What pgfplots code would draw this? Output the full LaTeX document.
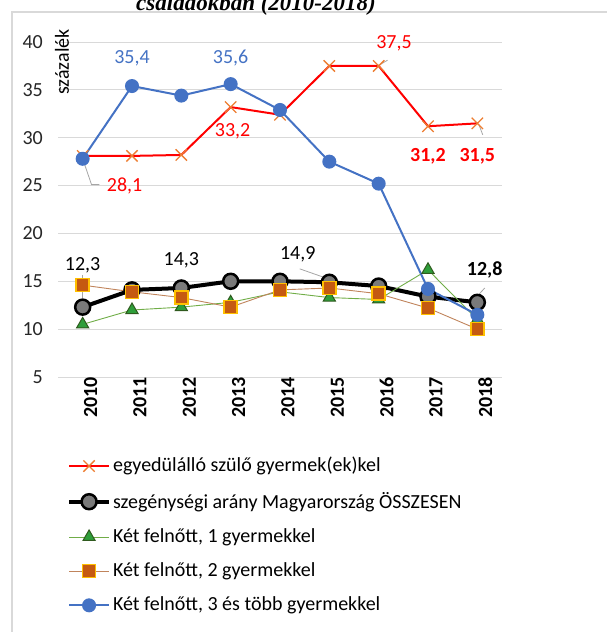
\documentclass[border=0pt]{standalone}
\usepackage{pgfplots}
\pgfplotsset{compat=1.18}
\usepackage{fontspec}
\setmainfont{Carlito}
\newfontfamily\titlefont{Liberation Serif}
\definecolor{cred}{HTML}{FF0000}
\definecolor{xorange}{HTML}{ED7D31}
\definecolor{cblue}{HTML}{4472C4}
\definecolor{gline}{HTML}{70AD47}
\definecolor{gfill}{HTML}{2E9E3A}
\definecolor{gdraw}{HTML}{2F5A1E}
\definecolor{oline}{HTML}{C0845C}
\definecolor{ofill}{HTML}{C55A11}
\definecolor{odraw}{HTML}{FFC000}
\definecolor{kfill}{HTML}{7A7A7A}
\definecolor{leader}{HTML}{A6A6A6}
\newcommand\fs{\fontsize{20}{23.5}\selectfont}
\begin{document}
\fs
\begin{tikzpicture}
\draw[gray!30, line width=1.2pt] (12pt,-12pt) rectangle (700pt,-700pt);
\node[font=\titlefont\bfseries\itshape\fontsize{23}{27}\selectfont, anchor=base] at (256pt,-10pt) {családokban (2010-2018)};
\begin{axis}[
  at={(58pt,-377pt)}, anchor=south west,
  scale only axis, width=444pt, height=335pt,
  xmin=-0.5, xmax=8.5, ymin=5, ymax=40,
  xtick={0,...,8}, xticklabels={2010,2011,2012,2013,2014,2015,2016,2017,2018},
  ytick={5,10,...,40},
  axis line style={draw=none},
  major tick length=0pt,
  ymajorgrids, grid style={gray!30, line width=0.9pt},
  /pgf/number format/assume math mode=true,
  tick label style={font=\fs},
  xticklabel style={rotate=90, anchor=east, inner sep=0pt, yshift=-8pt, font=\fs\bfseries},
  yticklabel style={anchor=east, inner sep=0pt, xshift=-15pt, text=black!85},
  legend style={at={(0.02,-0.233)}, anchor=north west, draw=none, fill=none, font=\fs,
    inner sep=0pt, row sep=13.3pt, cells={anchor=west}},
  legend image code/.code={\draw[mark repeat=2,mark phase=2,#1] plot coordinates {(0pt,0pt) (20pt,0pt) (40pt,0pt)};},
  clip=false,
]
\addplot[cred, line width=2pt, mark=x, mark size=8pt, mark options={draw=xorange, line width=1.3pt}]
  coordinates {(0,28.1) (1,28.1) (2,28.2) (3,33.2) (4,32.4) (5,37.5) (6,37.5) (7,31.2) (8,31.5)};
\addlegendentry{egyedülálló szülő gyermek(ek)kel}
\addplot[black, line width=4pt, mark=*, mark size=7.5pt, mark options={fill=kfill, draw=black, line width=2.5pt}]
  coordinates {(0,12.3) (1,14.1) (2,14.3) (3,15.0) (4,15.0) (5,14.9) (6,14.5) (7,13.4) (8,12.8)};
\addlegendentry{szegénységi arány Magyarország ÖSSZESEN}
\addplot[gline, line width=0.9pt, mark=triangle*, mark size=7pt, mark options={fill=gfill, draw=gdraw, line width=1pt}]
  coordinates {(0,10.5) (1,12.0) (2,12.3) (3,12.8) (4,13.9) (5,13.3) (6,13.1) (7,16.2) (8,11.0)};
\addlegendentry{Két felnőtt, 1 gyermekkel}
\addplot[oline, line width=0.9pt, mark=square*, mark size=6.5pt, mark options={fill=ofill, draw=odraw, line width=1.6pt}]
  coordinates {(0,14.6) (1,13.9) (2,13.3) (3,12.3) (4,14.1) (5,14.3) (6,13.7) (7,12.2) (8,10.0)};
\addlegendentry{Két felnőtt, 2 gyermekkel}
\addplot[cblue, line width=2pt, mark=*, mark size=6pt, mark options={fill=cblue, draw=cblue}]
  coordinates {(0,27.8) (1,35.4) (2,34.4) (3,35.6) (4,32.9) (5,27.5) (6,25.2) (7,14.2) (8,11.5)};
\addlegendentry{Két felnőtt, 3 és több gyermekkel}
% leader lines
\draw[leader, line width=0.8pt] (axis cs:6.18,38.1) -- (axis cs:5.98,37.5);
\draw[leader, line width=0.8pt] (axis cs:0.04,27.2) -- (axis cs:0.18,25.1) -- (axis cs:0.34,25.1);
\draw[leader, line width=0.8pt] (axis cs:8.03,31.4) -- (axis cs:8.11,30.3);
\draw[leader, line width=0.8pt] (axis cs:0,15.66) -- (axis cs:0,13.25);
\draw[leader, line width=0.8pt] (axis cs:4.4,16.3) -- (axis cs:4.87,15.45);
\draw[leader, line width=0.8pt] (axis cs:7.99,13.4) -- (axis cs:8.15,14.3);
% data labels
\node[text=cblue] at (axis cs:1,38.3) {35,4};
\node[text=cblue] at (axis cs:3,38.3) {35,6};
\node[text=cred] at (axis cs:6.31,39.9) {37,5};
\node[text=cred] at (axis cs:0.85,24.96) {28,1};
\node[text=cred] at (axis cs:3.04,30.7) {33,2};
\node[text=cred, font=\fs\bfseries] at (axis cs:7,28.1) {31,2};
\node[text=cred, font=\fs\bfseries] at (axis cs:8,28.1) {31,5};
\node[text=black] at (axis cs:0,16.7) {12,3};
\node[text=black] at (axis cs:2,17.2) {14,3};
\node[text=black] at (axis cs:4.36,17.85) {14,9};
\node[text=black, font=\fs\bfseries] at (axis cs:8.15,16.2) {12,8};
% y axis title
\node[rotate=90, font=\fs] at (axis cs:-0.42,37.9) {százalék};
\end{axis}
\pgfresetboundingbox
\path[use as bounding box] (0pt,0pt) rectangle (606pt,-632pt);
\end{tikzpicture}
\end{document}
